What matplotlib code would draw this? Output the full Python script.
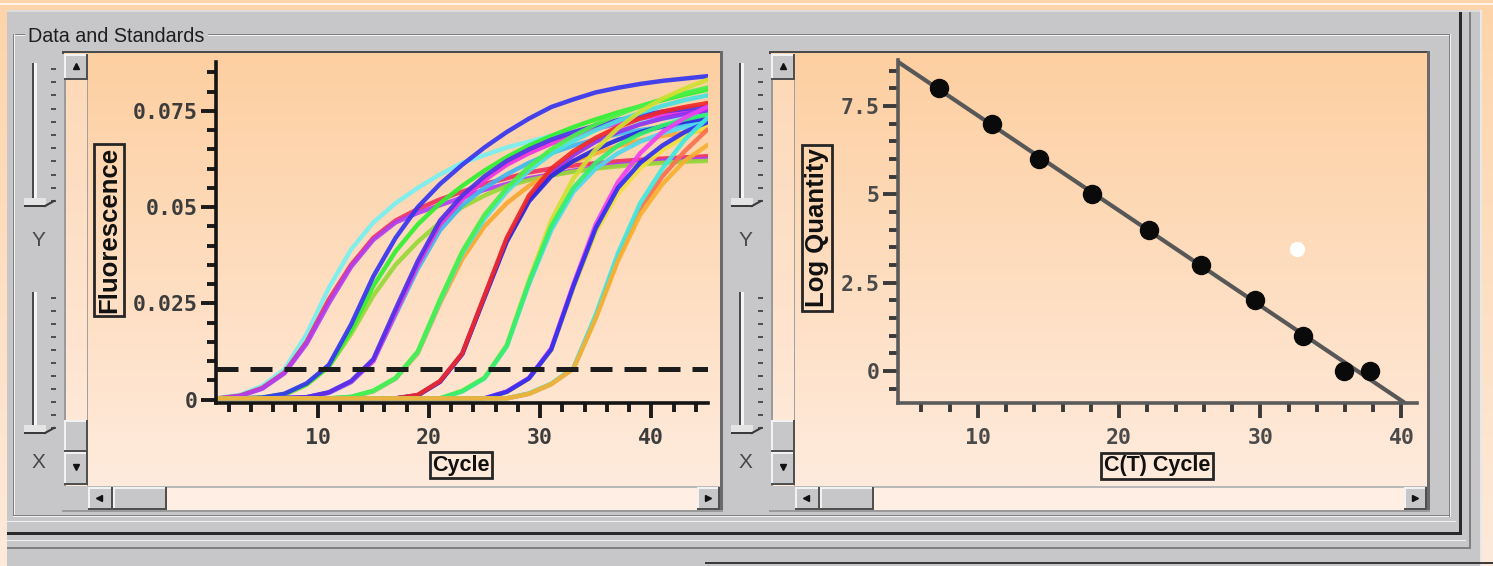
import numpy as np
import matplotlib
matplotlib.use('Agg')
import matplotlib.pyplot as plt
from matplotlib.colors import to_rgb
from matplotlib.patches import Rectangle
from matplotlib.ticker import MultipleLocator, FuncFormatter

W, H = 1493, 566

# ---- left chart: amplification curves, fluorescence in units of 0.001
cycles = [1, 3, 5, 7, 9, 11, 13, 15, 17, 19, 21, 23, 25, 27, 29, 31, 33, 35, 37, 39, 41, 43, 45]

g1_cyan = [0.4, 1.2, 3.5, 7.8, 17, 29, 39, 46, 51, 55, 58.5, 61.5, 63.5, 65.5, 67, 68.5, 69.5, 70.5, 71.5, 72.5, 73, 73.5, 74]
g1_red = [0.3, 1.0, 3.0, 7.0, 15, 26, 35, 42, 46.5, 49.5, 52, 54, 56, 57.5, 59, 60, 60.8, 61.4, 61.9, 62.3, 62.6, 62.9, 63.2]
g1_purple = [0.2, 0.9, 2.8, 6.8, 14.5, 25, 34.5, 41.5, 46, 48.5, 50.5, 52.5, 54.5, 56, 57.5, 58.5, 59.5, 60.3, 61, 61.5, 62, 62.3, 62.5]

g2_blue = [0.3, 0.3, 0.5, 1.5, 4.2, 9, 19.5, 32, 42, 50, 56, 61, 65.5, 69.5, 73, 76, 78, 79.8, 81, 82, 82.8, 83.4, 84]
g2_green = [0.3, 0.3, 0.5, 1.4, 4, 8.6, 18, 29.5, 38.5, 45.5, 51, 55.5, 59.5, 63, 66, 68.5, 70.8, 72.8, 74.6, 76.2, 77.8, 79.2, 80.5]
g2_lime = [0.2, 0.3, 0.4, 1.2, 3.8, 8.5, 17, 27, 35, 41, 46, 50, 53, 55.5, 57, 58.2, 59.2, 60, 60.6, 61.1, 61.5, 61.8, 62]

g3_violet = [0.3, 0.3, 0.3, 0.4, 0.6, 1.9, 4.8, 10.5, 23.5, 36, 46.5, 53, 58, 62, 65, 67.5, 69.5, 71.2, 72.6, 73.8, 74.8, 75.5, 76]
g3_magenta = [0.3, 0.3, 0.3, 0.4, 0.6, 1.8, 4.6, 10, 22.5, 35, 45.5, 52, 57, 61, 64, 66.5, 68.5, 70.3, 71.8, 73, 74, 74.6, 75]
g3_sky = [0.2, 0.3, 0.3, 0.4, 0.6, 1.7, 4.5, 10, 22, 34, 44, 50.5, 55, 58.5, 61.5, 64, 66, 67.6, 69, 70, 70.8, 71.5, 72]

g4_green = [0.3] * 6 + [0.7, 2.3, 5.6, 12.5, 26, 38.5, 48, 55, 60.5, 65, 68.5, 71.5, 74, 76.2, 78, 79.6, 81]
g4_cyan = [0.3] * 6 + [0.7, 2.2, 5.5, 12.3, 25.5, 38, 47, 54, 59.5, 63.8, 67.2, 70, 72.4, 74.5, 76.3, 77.8, 79]
g4_orange = [0.3] * 6 + [0.6, 2.1, 5.4, 12, 25, 36.5, 45, 51, 55.5, 59, 61.8, 64, 65.8, 67.3, 68.5, 69.3, 70]

g5_red = [0.3] * 9 + [1.2, 4.8, 12, 27, 42, 53, 60, 64.5, 68, 70.8, 73, 74.8, 76, 77]
g5_blue = [0.3] * 9 + [1.1, 4.6, 11.8, 26.5, 41, 51.5, 58, 62, 65, 67.5, 69.5, 71, 72.2, 73]
g5_purple = [0.3] * 9 + [1.1, 4.7, 11.9, 26.8, 41.5, 52, 59, 63.5, 67, 69.5, 71.5, 73, 74.2, 75]

g6_green = [0.3] * 11 + [2.2, 5.6, 14, 30.5, 45, 55, 61.5, 66, 69, 71.2, 72.8, 74]
g6_cyan = [0.3] * 11 + [2.1, 5.5, 13.8, 30, 44, 54, 60, 64, 67, 69.2, 70.8, 72]
g6_yellow = [0.3] * 11 + [2.3, 5.7, 14.2, 31, 46.5, 57.5, 65, 70.5, 74.8, 78.2, 80.8, 83]

g7_blue = [0.3] * 13 + [2.0, 5.5, 13, 29.5, 44.5, 55, 61.5, 66, 69.5, 72]
g7_magenta = [0.3] * 13 + [2.1, 5.6, 13.3, 30, 45.5, 56.5, 64, 69.5, 73.2, 76]
g7_yellow = [0.3] * 13 + [1.9, 5.4, 12.8, 29, 43.5, 53.5, 60, 64.8, 68.3, 71]

g8_orange = [0.3] * 14 + [1.5, 4, 8, 21, 36, 48, 56, 62, 66]
g8_cyan = [0.3] * 14 + [1.6, 4.1, 8.2, 22, 38, 51, 60, 67.5, 73]
g8_salmon = [0.3] * 14 + [1.5, 4, 8.1, 21.5, 37, 49.5, 58, 64.5, 70]

curves = [
    (g1_cyan, '#78f0f0'), (g1_red, '#f03060'), (g1_purple, '#b040f0'),
    (g2_lime, '#98d838'), (g2_green, '#30f030'), (g2_blue, '#3535f0'),
    (g3_sky, '#40b8f0'), (g3_magenta, '#f030e0'), (g3_violet, '#5030e8'),
    (g4_orange, '#f8a830'), (g4_cyan, '#48e0e0'), (g4_green, '#48f048'),
    (g5_purple, '#9030f0'), (g5_blue, '#2828e0'), (g5_red, '#f02828'),
    (g6_cyan, '#50d8f0'), (g6_yellow, '#d0e030'), (g6_green, '#30f070'),
    (g7_yellow, '#f0e040'), (g7_magenta, '#f040f0'), (g7_blue, '#3030f0'),
    (g8_salmon, '#f87050'), (g8_cyan, '#40e8e0'), (g8_orange, '#f8b030'),
]
threshold = 0.0079

# ---- right chart: standard curve
ct_values = [7.24, 10.97, 14.35, 18.07, 22.15, 25.8, 29.6, 33.0, 35.9, 37.8]
log_quantity = [8, 7, 6, 5, 4, 3, 2, 1, 0, 0]
unknown_ct = [32.6]
unknown_quantity = [3.44]

GRAY = '#c7c6c9'
LIGHT = '#f2f2f2'
DARK = '#808080'

fig = plt.figure(figsize=(W / 100, H / 100), dpi=100)
bg = fig.add_axes([0, 0, 1, 1], zorder=0)


def box(x0, y0, x1, y1, color, z=1):
    bg.add_patch(Rectangle((x0, y0), x1 - x0, y1 - y0, facecolor=color,
                           edgecolor='none', zorder=z))


def gradient(x0, y0, x1, y1, top, bottom, z=1):
    t = np.linspace(0, 1, 256)[:, None, None]
    img = np.array(to_rgb(top)) * (1 - t) + np.array(to_rgb(bottom)) * t
    bg.imshow(img, extent=(x0, x1, y1, y0), aspect='auto', zorder=z,
              interpolation='bilinear')


def bevel(x0, y0, x1, y1, z=3):
    box(x0, y0, x1, y1, GRAY, z)
    box(x0, y0, x1, y0 + 1.5, LIGHT, z)
    box(x0, y0, x0 + 1.5, y1, LIGHT, z)
    box(x0, y1 - 2, x1, y1, '#505050', z)
    box(x1 - 2, y0, x1, y1, '#505050', z)


def arrow(x, y, marker):
    bg.plot([x], [y], marker=marker, ms=5, color='#111111', zorder=4)


# window background
gradient(0, 0, W, H, '#fdd4a9', '#feeadb', z=0)
box(0, 3, W, 5, '#fff3ea')
box(7, 10, 1480, H, GRAY)
box(7, 10, 1480, 12, '#dcdbdd')
box(1480, 10, 1482, H, '#e8e8e8')

# group box (etched)
box(13, 34, 1450, 35, DARK, 2)
box(13, 35, 1450, 36, LIGHT, 2)
box(13, 34, 14, 516, DARK, 2)
box(14, 34, 15, 516, LIGHT, 2)
box(13, 515, 1450, 516, DARK, 2)
box(13, 516, 1450, 517, LIGHT, 2)
box(1449, 34, 1450, 517, DARK, 2)
box(1450, 34, 1451, 517, LIGHT, 2)
box(25, 28, 208, 44, GRAY, 2)
bg.text(28, 36, 'Data and Standards', fontsize=14.2, family='Liberation Sans',
        color='#1e1e1e', va='center', ha='left', zorder=3)

# outer frame lines
box(7, 532, 1461, 534.5, '#2a2a2a', 2)
box(1459, 12, 1461.5, 534.5, '#2a2a2a', 2)
box(7, 521, 1456, 522, LIGHT, 2)
box(1469, 12, 1470.5, 548, DARK, 2)
box(7, 547, 1470.5, 548.5, DARK, 2)
box(7, 540, 1466, 541, LIGHT, 2)
box(705, 562, W, 564, '#3a3a3a', 2)

for o in (0, 707):
    # panel border
    box(62 + o, 51, 722 + o, 53.5, '#4a4a4a', 2)
    box(720 + o, 51, 722.5 + o, 512, '#6a6a6a', 2)
    box(62 + o, 510, 722.5 + o, 512, '#9a9a9a', 2)
    # canvas and vertical scrollbar track
    gradient(88 + o, 53.5, 720 + o, 486, '#fdcfa1', '#ffebdd', z=2)
    gradient(64 + o, 53.5, 88 + o, 486, '#fdd8b6', '#ffebdd', z=2)
    box(64 + o, 53.5, 65.5 + o, 486, '#9a9a9a', 2)
    box(86.5 + o, 53.5, 88 + o, 486, '#a0a0a0', 2)
    bevel(64 + o, 54, 88 + o, 80)
    arrow(76 + o, 66, '^')
    bevel(64 + o, 420, 88 + o, 452)
    bevel(64 + o, 452, 88 + o, 485)
    arrow(76 + o, 467, 'v')
    # horizontal scrollbar
    box(88 + o, 486, 720 + o, 510, '#ffeee3', 2)
    box(88 + o, 486, 720 + o, 488, '#b8b8b8', 2)
    bevel(88 + o, 487, 113 + o, 510)
    arrow(99 + o, 498, '<')
    bevel(113 + o, 487, 167 + o, 510)
    bevel(697 + o, 487, 720 + o, 510)
    arrow(708 + o, 498, '>')
    # sliders
    for top, bot, label, ly in ((63, 203, 'Y', 240), (292, 430, 'X', 463)):
        box(32 + o, top, 34 + o, bot, '#4a4a4a', 2)
        box(34 + o, top, 37 + o, bot, '#f4f4f4', 2)
        for ty in np.linspace(top + 6, bot - 2, 11):
            box(51 + o, ty - 1, 56 + o, ty + 1, '#505050', 2)
        box(24 + o, bot - 5, 46 + o, bot + 2, '#e4e4e4', 3)
        box(24 + o, bot + 2, 46 + o, bot + 4, '#3a3a3a', 3)
        bg.plot([45 + o, 54 + o], [bot + 3, bot - 2], color='#3a3a3a', lw=1.5, zorder=3)
        bg.text(38 + o, ly, label, fontsize=15, family='Liberation Sans',
                color='#484848', ha='center', va='center', zorder=3)

bg.set_xlim(0, W)
bg.set_ylim(H, 0)
bg.axis('off')


def fig_rect(x0, y0, x1, y1):
    return [x0 / W, 1 - y1 / H, (x1 - x0) / W, (y1 - y0) / H]


fmt = FuncFormatter(lambda v, p: f'{v:g}')
tick_font = {'family': 'DejaVu Sans Mono', 'weight': 'bold', 'size': 15.5}
label_font = 'Liberation Sans'


def style_axes(ax, spine_color, tick_color, text_color):
    ax.set_facecolor('none')
    for side in ('top', 'right'):
        ax.spines[side].set_visible(False)
    for side in ('left', 'bottom'):
        ax.spines[side].set_color(spine_color)
        ax.spines[side].set_linewidth(2.6)
    ax.tick_params(which='major', length=11, width=2.8, color=tick_color)
    ax.tick_params(which='minor', length=6.5, width=2.8, color=tick_color)
    ax.tick_params(axis='x', which='both', pad=7)
    ax.tick_params(axis='y', which='both', pad=2)
    ax.xaxis.set_major_formatter(fmt)
    ax.yaxis.set_major_formatter(fmt)
    for lab in ax.get_xticklabels() + ax.get_yticklabels():
        lab.set_fontproperties(tick_font)
        lab.set_color(text_color)


box_style = dict(boxstyle='square,pad=0.12', facecolor='none', edgecolor='#262626', linewidth=2)

# ---- left chart
ax1 = fig.add_axes(fig_rect(216, 62, 708, 403), zorder=2)
for values, color in curves:
    ax1.plot(cycles, np.array(values) / 1000, color=color, lw=3.2, alpha=0.92,
             solid_joinstyle='round')
ax1.axhline(threshold, color='#1c1c1c', lw=3.6, dashes=(4.4, 2.4), zorder=3)
ax1.set_xlim(0.85, 45.1)
ax1.set_ylim(-0.0009, 0.0877)
ax1.xaxis.set_major_locator(MultipleLocator(10))
ax1.xaxis.set_minor_locator(MultipleLocator(2))
ax1.yaxis.set_major_locator(MultipleLocator(0.025))
ax1.yaxis.set_minor_locator(MultipleLocator(0.005))
style_axes(ax1, '#141414', '#1a1a1a', '#3c3c3c')
ax1.set_ylabel('Fluorescence', family=label_font, weight='bold', fontsize=18.5,
               color='#101010', va='center', ha='center', bbox=box_style)
ax1.set_xlabel('Cycle', family=label_font, weight='bold', fontsize=15.5,
               color='#101010', va='center', ha='center', bbox=box_style)
ax1.yaxis.set_label_coords((109 - 216) / 492, (403 - 230) / 341)
ax1.xaxis.set_label_coords((461 - 216) / 492, (403 - 465) / 341)

# ---- right chart
ax2 = fig.add_axes(fig_rect(898, 60, 1417, 403), zorder=2)
slope, intercept = np.polyfit(ct_values, log_quantity, 1)
xfit = np.array([4.34, 41.1])
ax2.plot(xfit, slope * xfit + intercept, color='#575757', lw=3)
ax2.plot(ct_values, log_quantity, 'o', ms=13, mfc='#0a0a0a', mec='#0a0a0a', zorder=3)
ax2.plot(unknown_ct, unknown_quantity, 'o', ms=10, mfc='white', mec='white', zorder=3)
ax2.set_xlim(4.34, 41.1)
ax2.set_ylim(-0.906, 8.8)
ax2.xaxis.set_major_locator(MultipleLocator(10))
ax2.xaxis.set_minor_locator(MultipleLocator(2))
ax2.yaxis.set_major_locator(MultipleLocator(2.5))
ax2.yaxis.set_minor_locator(MultipleLocator(0.5))
style_axes(ax2, '#5a5a5a', '#3a3a3a', '#4a4a4a')
ax2.set_ylabel('Log Quantity', family=label_font, weight='bold', fontsize=18.5,
               color='#101010', va='center', ha='center', bbox=box_style)
ax2.set_xlabel('C(T) Cycle', family=label_font, weight='bold', fontsize=15.5,
               color='#101010', va='center', ha='center', bbox=box_style)
ax2.yaxis.set_label_coords((817 - 898) / 519, (403 - 228) / 343)
ax2.xaxis.set_label_coords((1157 - 898) / 519, (403 - 466) / 343)

fig.savefig('out.png', dpi=100)
